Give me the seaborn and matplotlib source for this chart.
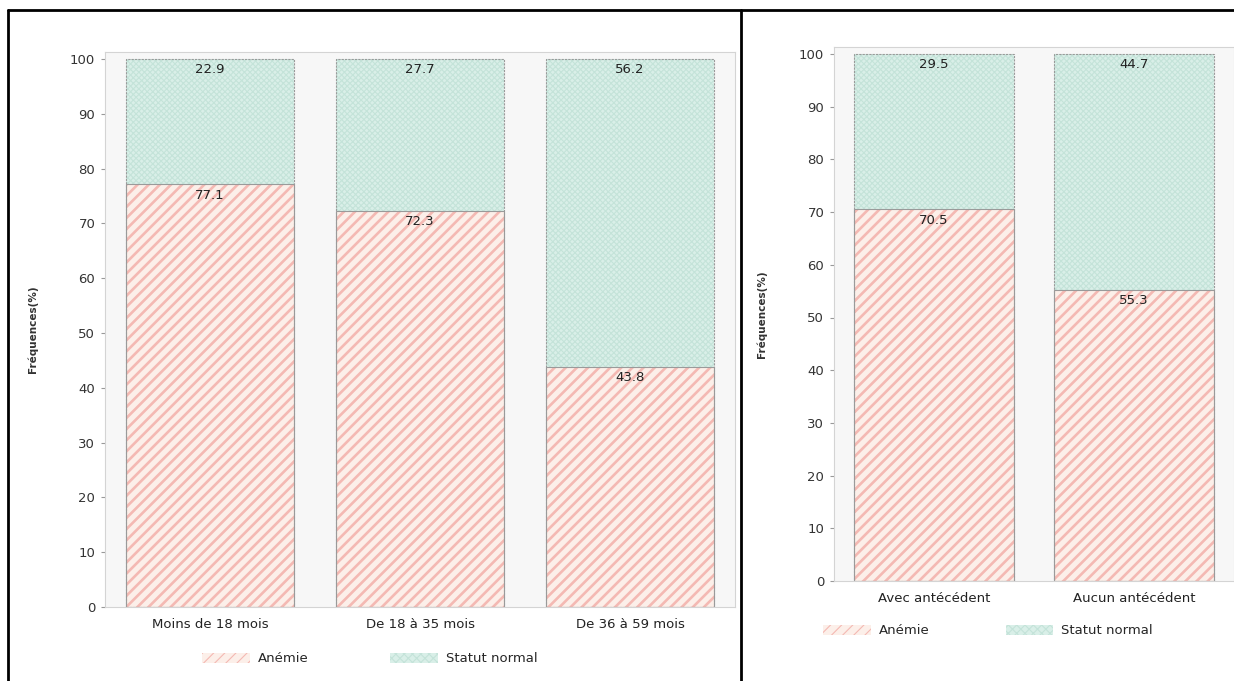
import matplotlib
matplotlib.use("Agg")
import matplotlib.pyplot as plt
import seaborn as sns
from matplotlib.patches import Patch
from matplotlib.lines import Line2D

# ---- data ----
age_cats = ["Moins de 18 mois", "De 18 à 35 mois", "De 36 à 59 mois"]
age_anemie = [77.1, 72.3, 43.8]
age_normal = [22.9, 27.7, 56.2]

ant_cats = ["Avec antécédent", "Aucun antécédent"]
ant_anemie = [70.5, 55.3]
ant_normal = [29.5, 44.7]

legend_labels = ["Anémie", "Statut normal"]
ylabel = "Fréquences(%)"
yticks = [0, 10, 20, 30, 40, 50, 60, 70, 80, 90, 100]

# ---- style ----
sns.set_style("white")
plt.rcParams["font.family"] = ["DejaVu Sans"]
ANEM_FACE = "#fcefe9"
ANEM_HATCH = "#f4b9b3"
NORM_FACE = "#d9efe8"
NORM_HATCH = "#c4e3d9"
EDGE = "#9a9a9a"
AX_BG = "#f7f7f7"
SPINE = "#d4d4d4"

W, H = 1234, 681
fig = plt.figure(figsize=(W / 100, H / 100), dpi=100)


def draw_panel(ax, cats, anem, norm, top, ylab_x):
    totals = [a + n for a, n in zip(anem, norm)]
    ax.set_facecolor(AX_BG)
    # normal (stacked on top): draw full totals first
    plt.rcParams["hatch.linewidth"] = 0.8
    sns.barplot(x=cats, y=totals, ax=ax, color=NORM_FACE, width=0.8,
                hatch="xxxxxx", edgecolor=NORM_HATCH, linewidth=0,
                saturation=1)
    plt.rcParams["hatch.linewidth"] = 1.9
    sns.barplot(x=cats, y=anem, ax=ax, color=ANEM_FACE, width=0.8,
                hatch="///", edgecolor=ANEM_HATCH, linewidth=0,
                saturation=1)
    # outlines
    sns.barplot(x=cats, y=totals, ax=ax, fill=False, width=0.8,
                edgecolor=EDGE, linewidth=0.8, linestyle=(0, (2, 1)))
    sns.barplot(x=cats, y=anem, ax=ax, fill=False, width=0.8,
                edgecolor=EDGE, linewidth=0.8)
    # value labels at top of each segment
    for i, (a, t, n) in enumerate(zip(anem, totals, norm)):
        ax.annotate(f"{a:.1f}", (i, a), xytext=(0, -3), textcoords="offset points",
                    ha="center", va="top", fontsize=9.5, color="#222222")
        ax.annotate(f"{n:.1f}", (i, t), xytext=(0, -3), textcoords="offset points",
                    ha="center", va="top", fontsize=9.5, color="#222222")
    ax.set_ylim(0, top)
    ax.set_xlim(-0.5, len(cats) - 0.5)
    ax.set_yticks(yticks)
    ax.tick_params(axis="y", labelsize=9.5, length=3, color="#999999",
                   left=True, pad=4, labelcolor="#333333")
    ax.tick_params(axis="x", labelsize=9.5, length=0, pad=8, labelcolor="#222222")
    ax.set_xlabel("")
    ax.set_ylabel(ylabel, fontsize=7.5, fontweight="bold", color="#333333")
    ax.yaxis.set_label_coords(ylab_x, 0.5)
    for s in ax.spines.values():
        s.set_color(SPINE)
        s.set_linewidth(0.8)


def legend_handles():
    plt.rcParams["hatch.linewidth"] = 1.5
    h1 = Patch(facecolor=ANEM_FACE, edgecolor=ANEM_HATCH, hatch="///", linewidth=0)
    plt.rcParams["hatch.linewidth"] = 0.8
    h2 = Patch(facecolor=NORM_FACE, edgecolor=NORM_HATCH, hatch="xxxx", linewidth=0)
    return [h1, h2]


# left panel
axL = fig.add_axes([105 / W, 1 - 607 / H, 630 / W, 555 / H])
draw_panel(axL, age_cats, age_anemie, age_normal, 100 * 555 / 548, -0.106)
axL.legend(legend_handles(), legend_labels, loc="center", ncol=2, frameon=False,
           bbox_to_anchor=(370 / W, 1 - 659 / H), bbox_transform=fig.transFigure,
           fontsize=9.5, handlelength=3.6, handleheight=0.7, columnspacing=6.2,
           handletextpad=0.6)

# right panel
axR = fig.add_axes([834 / W, 1 - 581 / H, 400 / W, 534 / H])
draw_panel(axR, ant_cats, ant_anemie, ant_normal, 100 * 534 / 527, -0.1675)
axR.legend(legend_handles(), legend_labels, loc="center", ncol=2, frameon=False,
           bbox_to_anchor=(988 / W, 1 - 631 / H), bbox_transform=fig.transFigure,
           fontsize=9.5, handlelength=3.6, handleheight=0.7, columnspacing=5.8,
           handletextpad=0.6)

# table borders
for xs, ys in [([8, W], [10, 10]), ([8, 8], [10, H]), ([741, 741], [10, H])]:
    fig.add_artist(Line2D([x / W for x in xs], [1 - y / H for y in ys],
                          transform=fig.transFigure, color="black", linewidth=2))

fig.savefig("out.png", dpi=100)
